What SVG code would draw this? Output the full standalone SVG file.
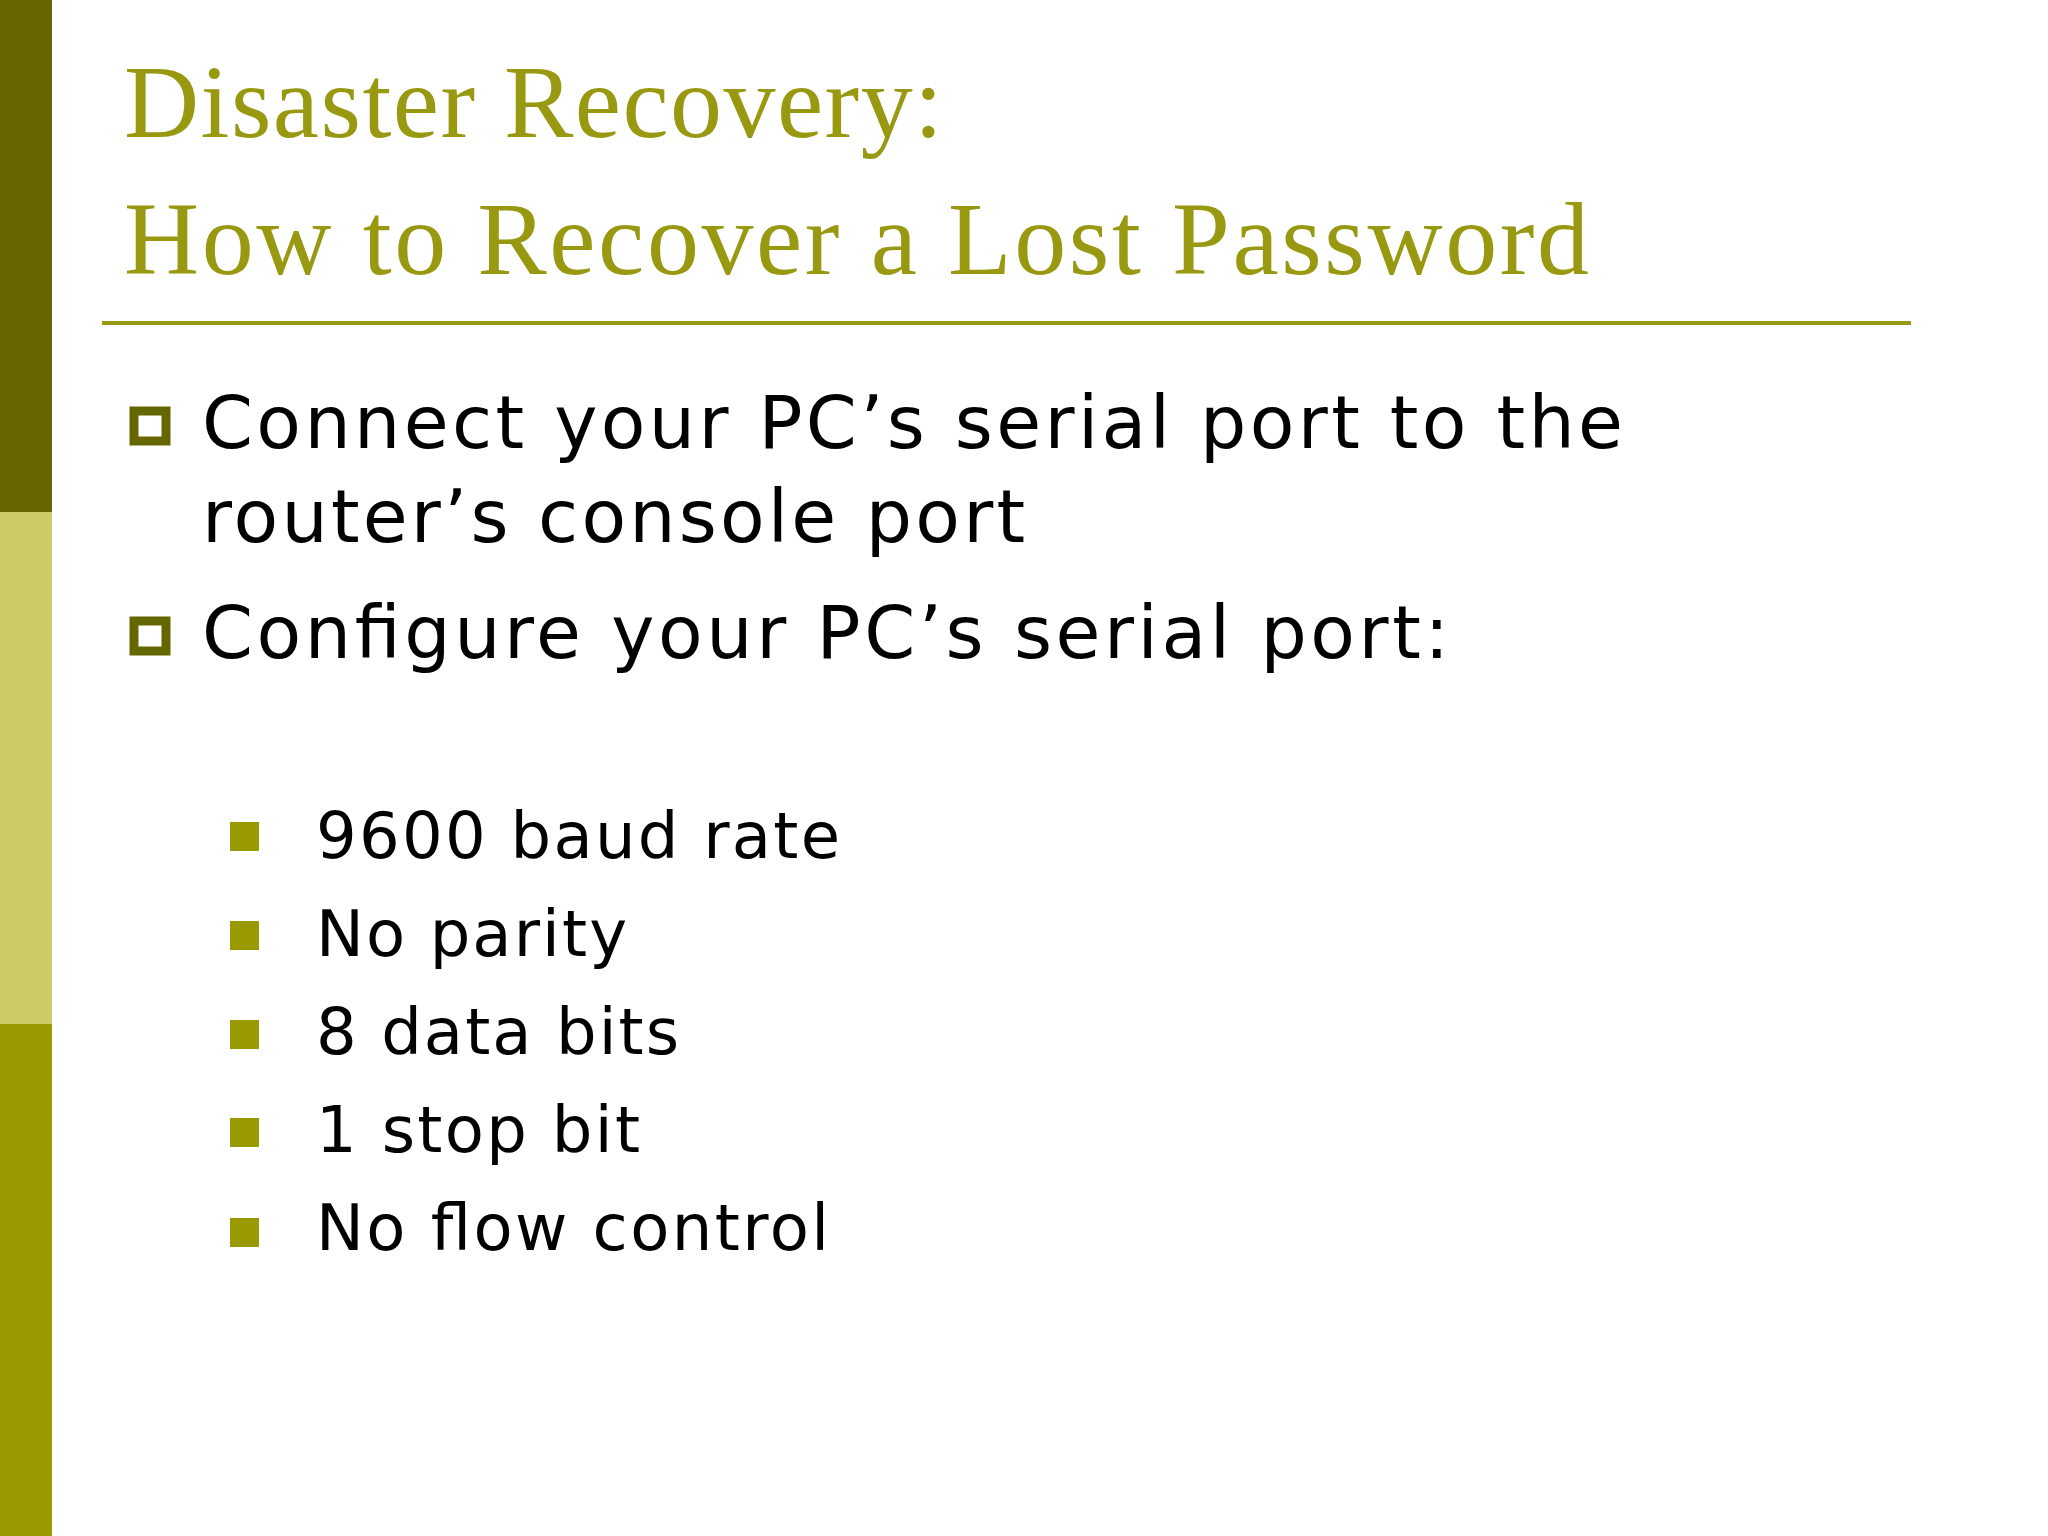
<svg xmlns="http://www.w3.org/2000/svg" width="2048" height="1536" viewBox="0 0 2048 1536">
<style>
.t{font-family:"Liberation Serif",serif;font-size:104px;fill:#999911}
.b{font-family:"DejaVu Sans",Verdana,sans-serif;font-size:73px;fill:#000}
.s{font-family:"DejaVu Sans",Verdana,sans-serif;font-size:64px;fill:#000}
.sq{fill:#999900}
.hb{fill:none;stroke:#666600;stroke-width:9}
</style>
<rect width="2048" height="1536" fill="#fff"/>
<rect x="0" y="0" width="52" height="512" fill="#666600"/>
<rect x="0" y="512" width="52" height="512" fill="#cccc66"/>
<rect x="0" y="1024" width="52" height="512" fill="#999900"/>
<g id="title">
<text class="t" x="124" y="137" textLength="819" lengthAdjust="spacing">Disaster Recovery:</text>
<text class="t" x="124" y="274" textLength="1465" lengthAdjust="spacing">How to Recover a Lost Password</text>
<line x1="102" y1="323" x2="1911" y2="323" stroke="#999911" stroke-width="4"/>
</g>
<g id="bullets">
<rect class="hb" x="134" y="411" width="32" height="30"/>
<text class="b" x="202" y="448" textLength="1421" lengthAdjust="spacing">Connect your PC’s serial port to the</text>
<text class="b" x="202" y="542" textLength="823" lengthAdjust="spacing">router’s console port</text>
<rect class="hb" x="134" y="621" width="32" height="30"/>
<text class="b" x="202" y="658" textLength="1247" lengthAdjust="spacing">Configure your PC’s serial port:</text>
</g>
<g id="subbullets">
<rect class="sq" x="230" y="822" width="29" height="29"/><text class="s" x="316" y="858" textLength="524" lengthAdjust="spacing">9600 baud rate</text>
<rect class="sq" x="230" y="921" width="29" height="29"/><text class="s" x="316" y="956" textLength="311" lengthAdjust="spacing">No parity</text>
<rect class="sq" x="230" y="1020" width="29" height="29"/><text class="s" x="316" y="1054" textLength="363" lengthAdjust="spacing">8 data bits</text>
<rect class="sq" x="230" y="1118" width="29" height="29"/><text class="s" x="316" y="1152" textLength="324" lengthAdjust="spacing">1 stop bit</text>
<rect class="sq" x="230" y="1218" width="29" height="29"/><text class="s" x="316" y="1250" textLength="513" lengthAdjust="spacing">No flow control</text>
</g>
</svg>
